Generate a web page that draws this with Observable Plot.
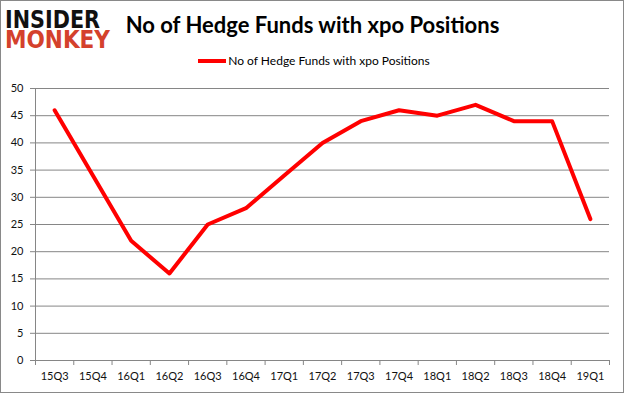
<!DOCTYPE html>
<html><head><meta charset="utf-8">
<script src="https://cdn.jsdelivr.net/npm/d3@7"></script>
<script src="https://cdn.jsdelivr.net/npm/@observablehq/plot@0.6"></script>
<style>
body{margin:0;background:#fff;}
#wrap{position:relative;width:625px;height:395px;overflow:hidden;font-family:Lato,"Open Sans",sans-serif;background:#fff;}
#frame{position:absolute;left:0;top:0;width:622px;height:391px;border:1px solid #898989;pointer-events:none;}
#title{position:absolute;left:0;width:625px;top:12px;text-align:center;font-weight:bold;font-size:22px;color:#000;line-height:26px;white-space:nowrap;}
#legend{position:absolute;left:0;width:628px;top:53px;display:flex;justify-content:center;align-items:center;font-size:12px;color:#000;white-space:nowrap;}
#legend .sw{display:inline-block;width:28px;height:4px;background:#ff0000;margin-right:2px;}
#logo{position:absolute;left:0;top:0;overflow:visible;}
#chart{position:absolute;left:0;top:0;}
</style>
</head><body>
<div id="wrap">
  <div id="chart"></div>
  <svg id="logo" width="120" height="56">
    <text font-family="DejaVu Sans" font-weight="bold" font-size="25"><tspan x="5" y="28" textLength="95" lengthAdjust="spacingAndGlyphs" fill="#111">INSIDER</tspan><tspan x="5" y="48" textLength="105" lengthAdjust="spacingAndGlyphs" fill="#d4412c">MONKEY</tspan></text>
  </svg>
  <div id="title">No of Hedge Funds with xpo Positions</div>
  <div id="legend"><span class="sw"></span><span>No of Hedge Funds with xpo Positions</span></div>
  <div id="frame"></div>
</div>
<script>
const quarters = ["15Q3","15Q4","16Q1","16Q2","16Q3","16Q4","17Q1","17Q2","17Q3","17Q4","18Q1","18Q2","18Q3","18Q4","19Q1"];
const funds = [46,34,22,16,25,28,34,40,44,46,45,47,44,44,26];
const yTicks = [0,5,10,15,20,25,30,35,40,45,50];

const data = quarters.map((q, i) => ({i, q, v: funds[i]}));
const idx = quarters.map((q, i) => i);
const bounds = [...idx.map(i => i - 0.5), quarters.length - 0.5];
const grey = "#868686";

const chart = Plot.plot({
  width: 625,
  height: 395,
  marginTop: 88,
  marginBottom: 35,
  marginLeft: 35,
  marginRight: 16,
  style: {fontFamily: "Lato, 'Open Sans', sans-serif", fontSize: "11px", background: "transparent"},
  x: {domain: [-0.5, quarters.length - 0.5]},
  y: {domain: [0, 50]},
  marks: [
    Plot.gridY(yTicks, {stroke: grey, strokeOpacity: 1}),
    Plot.ruleY([0], {stroke: grey}),
    Plot.ruleX([-0.5], {stroke: grey}),
    Plot.axisY(yTicks, {tickSize: 5, tickPadding: 7, stroke: grey, fill: "#111", fontSize: 11, tickFormat: d => String(d), label: null}),
    Plot.axisX(bounds, {tickSize: 5, stroke: grey, tickFormat: () => "", label: null}),
    Plot.axisX(idx, {tickSize: 0, tickPadding: 12, fill: "#111", fontSize: 11, tickFormat: i => quarters[i], label: null}),
    Plot.line(data, {x: "i", y: "v", stroke: "#ff0000", strokeWidth: 4, strokeLinejoin: "round"})
  ]
});
document.getElementById("chart").appendChild(chart);
</script>
</body></html>
